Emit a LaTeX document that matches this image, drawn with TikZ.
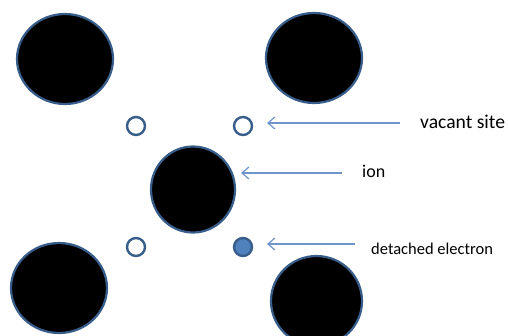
\documentclass[tikz,border=0pt]{standalone}
\usepackage{fontspec}
\setmainfont{Carlito}
\usetikzlibrary{shapes.geometric,arrows.meta}
\definecolor{rimblue}{HTML}{385D8A}
\definecolor{fillblue}{HTML}{4F81BD}
\definecolor{ptrblue}{HTML}{6F95CB}
\tikzset{
  atom/.style={ellipse, draw=rimblue, line width=2.2bp, fill=black, inner sep=0pt},
  hole/.style={circle, draw=rimblue, line width=2.4bp, fill=white, inner sep=0pt, minimum size=18bp},
  electron/.style={hole, fill=fillblue},
  ptr/.style={draw=ptrblue, line width=1.2bp, -{Straight Barb[length=7bp,width=12bp,line width=1.2bp]}},
  label/.style={anchor=base west, inner sep=0pt, text=black}
}
\begin{document}
\begin{tikzpicture}[x=1bp,y=-1bp]
  \useasboundingbox (0,0) rectangle (508,335);
  % lattice ions
  \node[atom, minimum width=96bp, minimum height=90bp] (tl) at (65,59) {};
  \node[atom, minimum width=96bp, minimum height=90bp] (tr) at (314,58) {};
  \node[atom, minimum width=84bp, minimum height=86bp] (mid) at (193,189.5) {};
  \node[atom, minimum width=96bp, minimum height=90bp] (bl) at (59,288) {};
  \node[atom, minimum width=91bp, minimum height=90bp] (br) at (316.5,301) {};
  % vacancies and the freed electron
  \node[hole] (v1) at (136,126) {};
  \node[hole] (v2) at (243,126) {};
  \node[hole] (v3) at (136,247) {};
  \node[electron] (e1) at (243,247) {};
  % labels
  \node[label, font=\fontsize{19.6bp}{23bp}\selectfont] (lv) at (420,128) {vacant site};
  \node[label, font=\fontsize{18bp}{21bp}\selectfont] (li) at (362,177) {ion};
  \node[label, font=\fontsize{16.5bp}{20bp}\selectfont] (le) at (371,254) {detached electron};
  % pointers
  \coordinate (pv) at (400,123);
  \coordinate (hv) at (267,123);
  \coordinate (pi) at (342,173);
  \coordinate (hi) at (241,173);
  \coordinate (pe) at (355,244);
  \coordinate (he) at (267,244);
  \draw[ptr] (pv) -- (hv);
  \draw[ptr] (pi) -- (hi);
  \draw[ptr] (pe) -- (he);
\end{tikzpicture}
\end{document}
